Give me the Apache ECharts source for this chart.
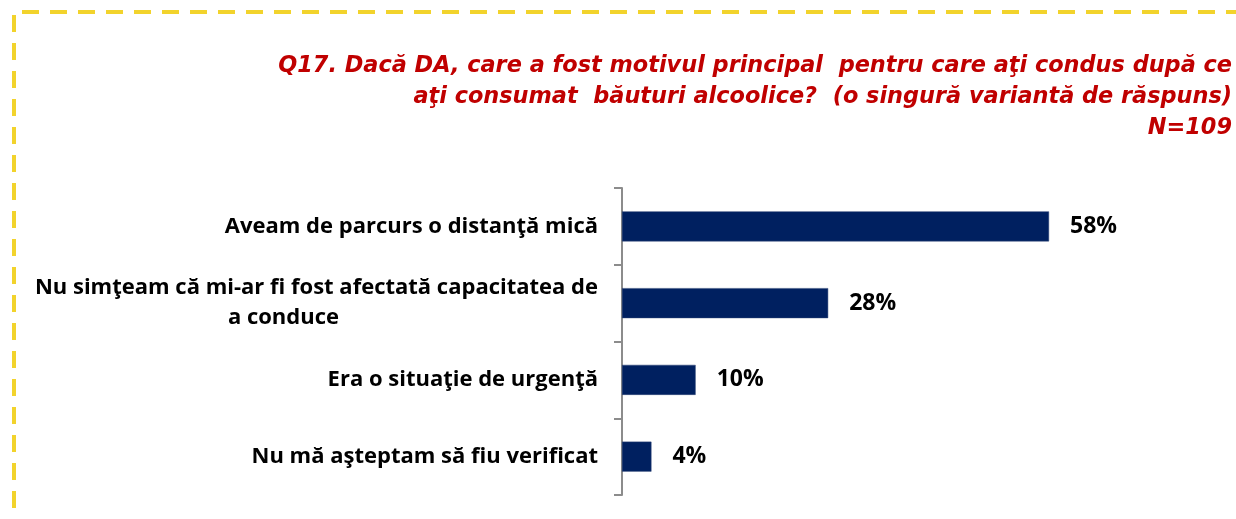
<!DOCTYPE html>
<html>
<head>
<meta charset="utf-8">
<script src="https://cdn.jsdelivr.net/npm/echarts@6/dist/echarts.min.js"></script>
<style>
  html, body { margin: 0; padding: 0; background: #fff; }
  #chart { width: 1236px; height: 519px; }
</style>
</head>
<body>
<div id="chart"></div>
<script>
// categories (top to bottom)
const categories = [
  "Aveam de parcurs o distanţă mică",
  "Nu simţeam că mi-ar fi fost afectată capacitatea de\na conduce",
  "Era o situaţie de urgenţă",
  "Nu mă aşteptam să fiu verificat"
];
// procente
const values = [58, 28, 10, 4];

const titleText = "Q17. Dacă DA, care a fost motivul principal  pentru care aţi condus după ce\naţi consumat  băuturi alcoolice?  (o singură variantă de răspuns)\nN=109";

const labelFont = {
  color: "#000",
  fontFamily: "Open Sans",
  fontWeight: "bold",
  fontSize: 22,
  lineHeight: 30
};

const myChart = echarts.init(document.getElementById("chart"));
const option = {
  animation: false,
  grid: {
    left: 622,
    right: 25,
    top: 188,
    bottom: 24
  },
  xAxis: {
    type: "value",
    min: 0,
    max: 80,
    show: false
  },
  yAxis: {
    type: "category",
    inverse: true,
    data: categories,
    axisLine: { show: true, lineStyle: { color: "#8c8c8c", width: 2 } },
    axisTick: { show: true, inside: false, length: 8, lineStyle: { color: "#8c8c8c", width: 2 } },
    axisLabel: Object.assign({
      margin: 24,
      formatter: function (v) {
        const lines = v.split("\n");
        return lines.map(function (s, i) {
          return (i === 0 ? "{c|" : "{d|") + s + "}";
        }).join("\n");
      },
      rich: {
        c: Object.assign({ align: "center" }, labelFont),
        // a doua linie din eticheta e usor mutata spre stanga in original
        d: Object.assign({ align: "center", padding: [0, 66, 0, 0] }, labelFont)
      }
    }, labelFont)
  },
  series: [
    {
      type: "bar",
      data: values,
      barWidth: 30,
      itemStyle: { color: "#002060", borderColor: "#2a4275", borderWidth: 0.5 },
      label: {
        show: true,
        position: "right",
        distance: 21,
        formatter: "{c}%",
        color: "#000",
        fontFamily: "Open Sans",
        fontWeight: "bold",
        fontSize: 23
      }
    }
  ],
  graphic: [
    {
      type: "text",
      x: 1232,
      y: 51,
      silent: true,
      style: {
        text: titleText,
        align: "right",
        verticalAlign: "top",
        fontFamily: "DejaVu Sans",
        fontStyle: "italic",
        fontWeight: "bold",
        fontSize: 22.4,
        lineHeight: 31,
        fill: "#C00000"
      }
    },
    {
      type: "line",
      shape: { x1: 22, y1: 12, x2: 1240, y2: 12 },
      style: { stroke: "#F2D32C", lineWidth: 4, lineDash: [17, 11] },
      silent: true
    },
    {
      type: "line",
      shape: { x1: 14, y1: 15, x2: 14, y2: 525 },
      style: { stroke: "#F2D32C", lineWidth: 4, lineDash: [17, 11] },
      silent: true
    }
  ]
};
myChart.setOption(option);
window.addEventListener("resize", function () {
  myChart.resize();
});
</script>
</body>
</html>
